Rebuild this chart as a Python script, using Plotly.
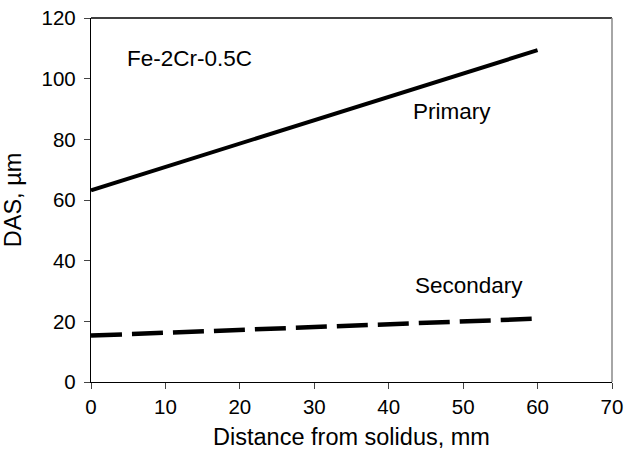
import plotly.graph_objects as go

distance = [0, 60]
primary = [63.2, 109.4]
secondary = [15.3, 20.9]

x_ticks = [0, 10, 20, 30, 40, 50, 60, 70]
y_ticks = [0, 20, 40, 60, 80, 100, 120]

fig = go.Figure()
fig.add_trace(go.Scatter(x=distance, y=primary, mode="lines",
                         line=dict(color="black", width=4), showlegend=False))
fig.add_trace(go.Scatter(x=distance, y=secondary, mode="lines",
                         line=dict(color="black", width=4.5, dash="31px,10px"), showlegend=False))

font = "Liberation Sans, Arial, sans-serif"
fig.add_annotation(x=4.6, y=106.8, text="Fe-2Cr-0.5C", showarrow=False, xanchor="left",
                   font=dict(family=font, size=22.5, color="black"))
fig.add_annotation(x=48.5, y=89.3, text="Primary", showarrow=False,
                   font=dict(family=font, size=22.5, color="black"))
fig.add_annotation(x=50.8, y=31.7, text="Secondary", showarrow=False,
                   font=dict(family=font, size=22.5, color="black"))

# top and right frame
fig.add_shape(type="line", xref="paper", yref="paper", x0=0, x1=1, y0=1, y1=1,
              line=dict(color="black", width=1.3))
fig.add_shape(type="line", xref="paper", yref="paper", x0=1, x1=1, y0=0, y1=1,
              line=dict(color="#888888", width=1.5))

fig.update_layout(
    width=625, height=450,
    margin=dict(l=91, r=13, t=18, b=68),
    plot_bgcolor="white", paper_bgcolor="white",
    font=dict(family=font, size=20.5, color="black"),
    xaxis=dict(range=[0, 70], tickvals=x_ticks, ticks="outside", ticklen=6,
               showgrid=False, zeroline=False, showline=True, linecolor="black", linewidth=1.3,
               automargin=False,
               title=dict(text="Distance from solidus, mm", font=dict(size=23.5), standoff=12),
               tickfont=dict(size=20.5)),
    yaxis=dict(range=[0, 120], tickvals=y_ticks, ticks="outside", ticklen=6,
               showgrid=False, zeroline=False, showline=True, linecolor="black", linewidth=1.3,
               automargin=False, ticklabelstandoff=4,
               title=dict(text="DAS, µm", font=dict(size=23.5), standoff=15),
               tickfont=dict(size=20.5)),
)

fig.write_html("out.html")
